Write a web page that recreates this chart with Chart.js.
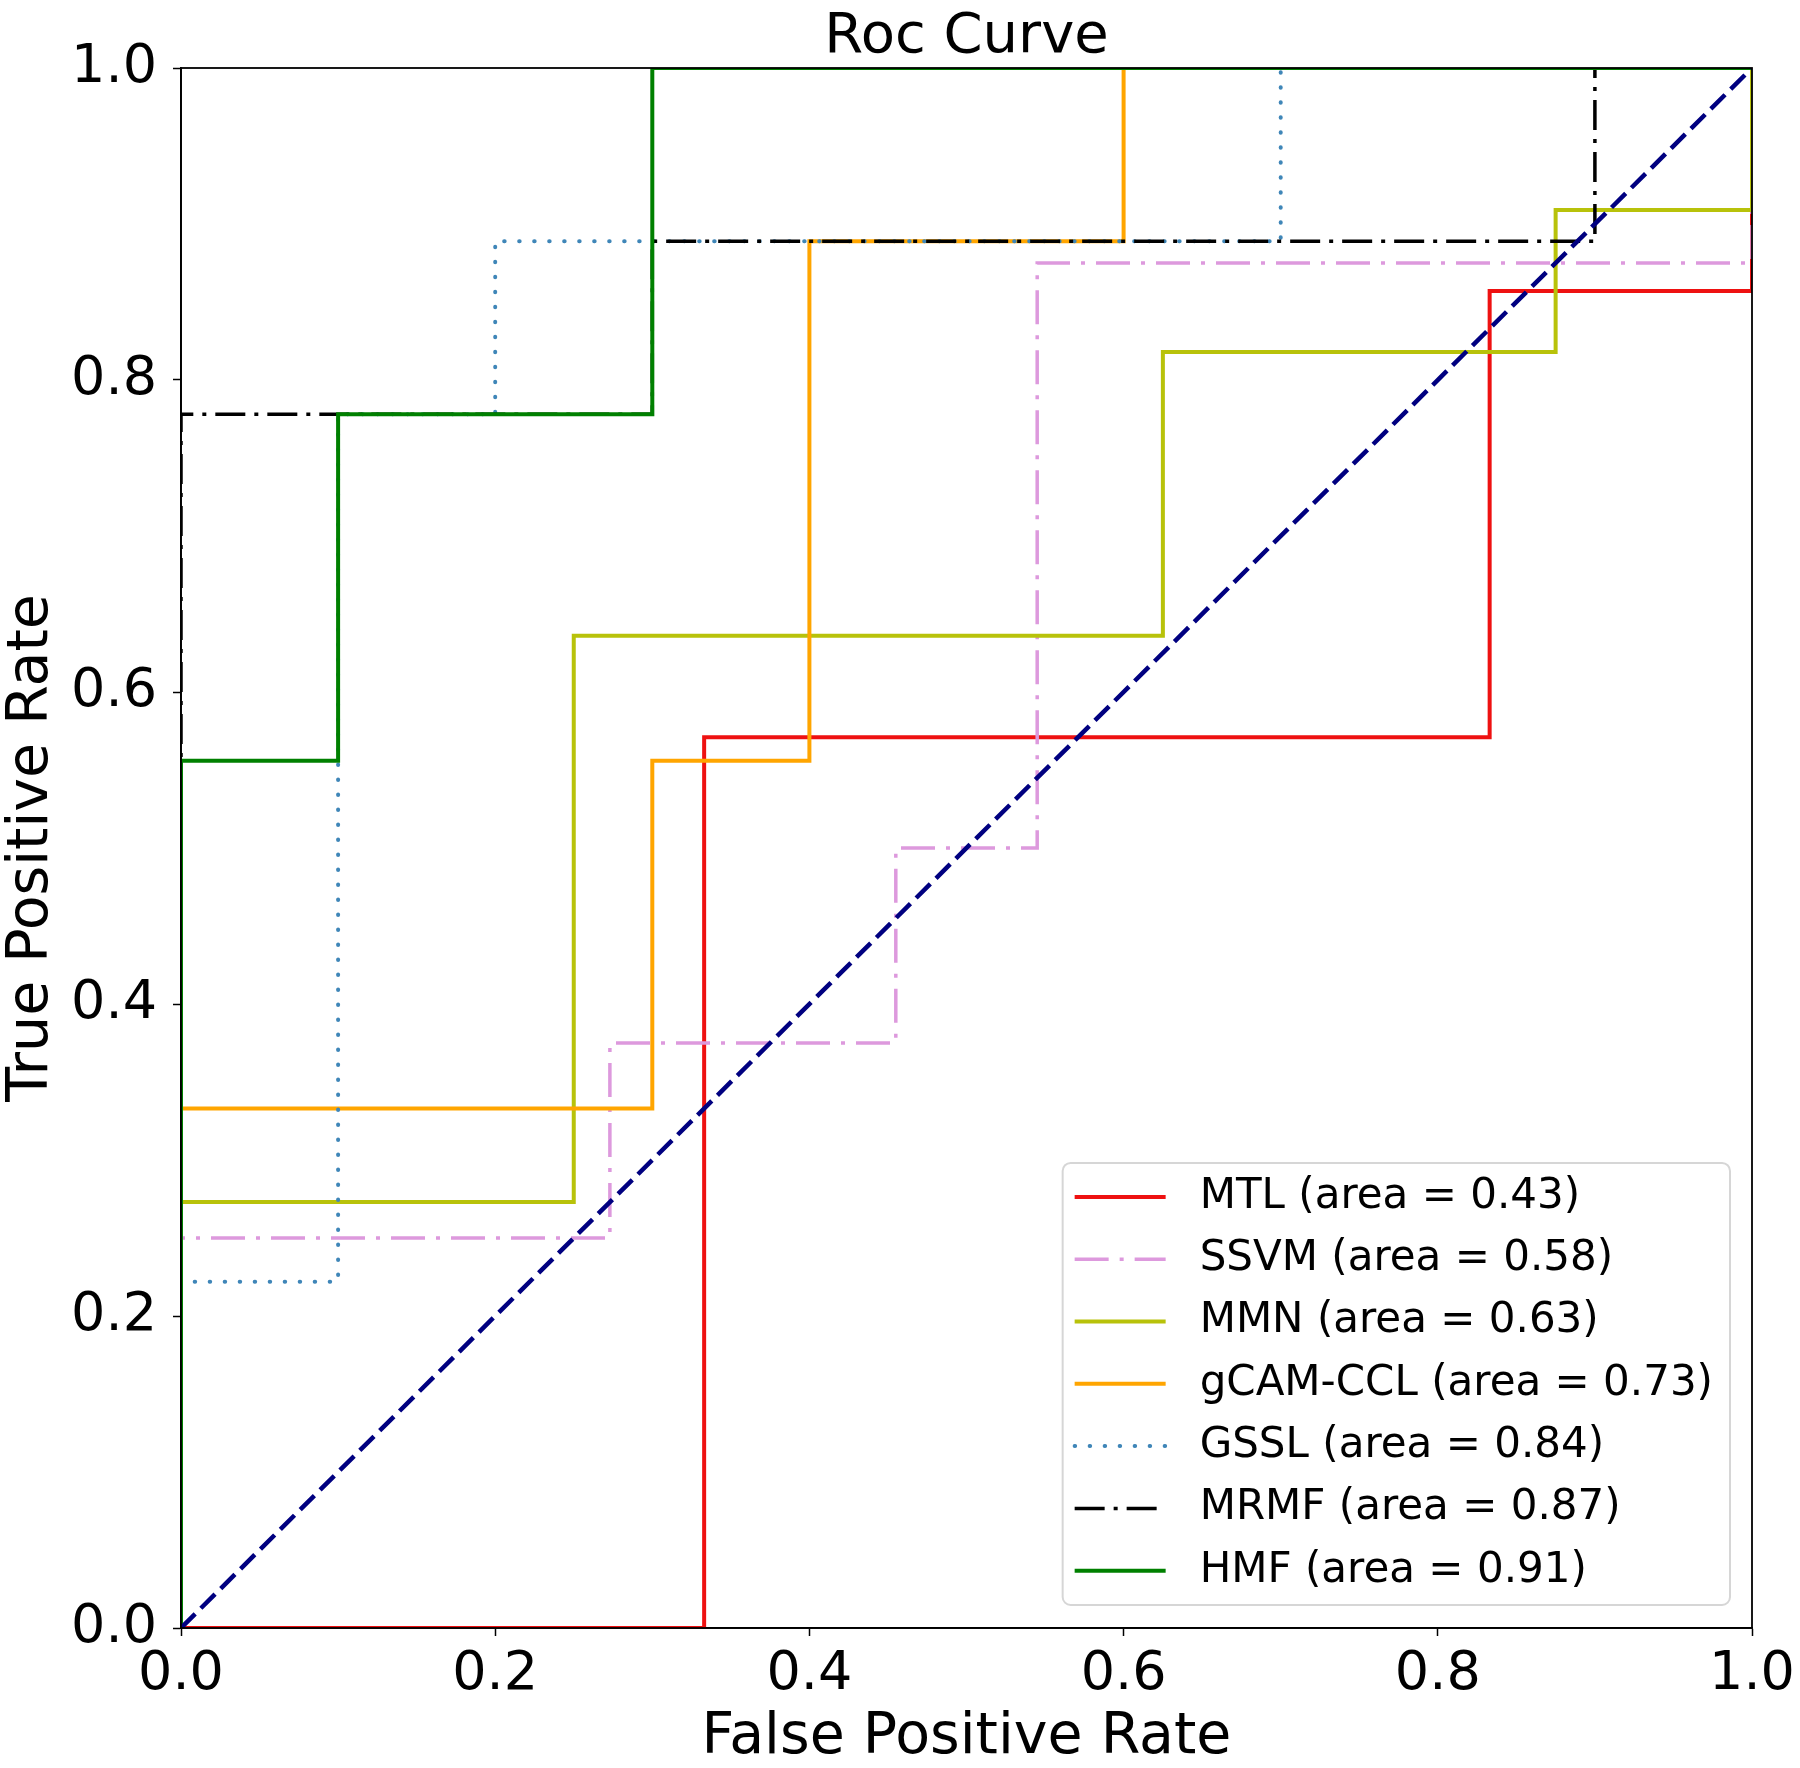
<!DOCTYPE html>
<html lang="en">
<head>
    <meta charset="UTF-8">
    <title>Roc Curve</title>
    <script src="https://cdn.jsdelivr.net/npm/chart.js"></script>
    <style>
        body {
            margin: 0;
            padding: 0;
            background: white;
        }
        canvas {
            display: block;
        }
    </style>
</head>
<body>
    <canvas id="rocChart" width="1800" height="1768"></canvas>

    <script>
        // ROC points (false positive rate / true positive rate)
        const mtlFpr = [0, 0.333, 0.333, 0.833, 0.833, 1, 1];
        const mtlTpr = [0, 0, 0.571, 0.571, 0.857, 0.857, 1];

        const ssvmFpr = [0, 0, 0.273, 0.273, 0.455, 0.455, 0.545, 0.545, 1, 1];
        const ssvmTpr = [0, 0.25, 0.25, 0.375, 0.375, 0.5, 0.5, 0.875, 0.875, 1];

        const mmnFpr = [0, 0, 0.25, 0.25, 0.625, 0.625, 0.875, 0.875, 1, 1];
        const mmnTpr = [0, 0.273, 0.273, 0.636, 0.636, 0.818, 0.818, 0.909, 0.909, 1];

        const gcamFpr = [0, 0, 0.3, 0.3, 0.4, 0.4, 0.6, 0.6, 1];
        const gcamTpr = [0, 0.333, 0.333, 0.556, 0.556, 0.889, 0.889, 1, 1];

        const gsslFpr = [0, 0, 0.1, 0.1, 0.2, 0.2, 0.7, 0.7, 1];
        const gsslTpr = [0, 0.222, 0.222, 0.778, 0.778, 0.889, 0.889, 1, 1];

        const mrmfFpr = [0, 0, 0.3, 0.3, 0.9, 0.9, 1];
        const mrmfTpr = [0, 0.778, 0.778, 0.889, 0.889, 1, 1];

        const hmfFpr = [0, 0, 0.1, 0.1, 0.3, 0.3, 1];
        const hmfTpr = [0, 0.556, 0.556, 0.778, 0.778, 1, 1];

        const chanceFpr = [0, 1];
        const chanceTpr = [0, 1];

        const seriesLabels = [
            'MTL (area = 0.43)',
            'SSVM (area = 0.58)',
            'MMN (area = 0.63)',
            'gCAM-CCL (area = 0.73)',
            'GSSL (area = 0.84)',
            'MRMF (area = 0.87)',
            'HMF (area = 0.91)'
        ];
        const axisTicks = [0, 0.2, 0.4, 0.6, 0.8, 1.0];

        const FONT = '"DejaVu Sans", sans-serif';

        function toPoints(xs, ys) {
            return xs.map((x, i) => ({ x: x, y: ys[i] }));
        }

        // draws the frame on all four sides, like matplotlib spines
        const frame = {
            id: 'frame',
            afterDatasetsDraw(chart) {
                const { ctx, chartArea: a } = chart;
                ctx.save();
                ctx.strokeStyle = '#000';
                ctx.lineWidth = 1.8;
                ctx.strokeRect(a.left, a.top, a.right - a.left, a.bottom - a.top);
                ctx.restore();
            }
        };

        // title centred over the plot area
        const plotTitle = {
            id: 'plotTitle',
            afterDraw(chart) {
                const { ctx, chartArea: a } = chart;
                ctx.save();
                ctx.font = '56px ' + FONT;
                ctx.fillStyle = '#000';
                ctx.textAlign = 'center';
                ctx.textBaseline = 'alphabetic';
                ctx.fillText('Roc Curve', (a.left + a.right) / 2, 52);
                ctx.restore();
            }
        };

        // legend box in the lower right corner of the plot area
        const insideLegend = {
            id: 'insideLegend',
            afterDraw(chart) {
                const { ctx, chartArea: a } = chart;
                const items = chart.data.datasets.filter(d => d.inLegend);
                ctx.save();
                ctx.font = '42px ' + FONT;
                const textW = Math.max(...items.map(d => ctx.measureText(d.label).width));
                const rowH = 62.3;
                const w = 12 + 91 + 34 + textW + 17;
                const h = rowH * items.length + 6;
                const x0 = a.right - 22 - w;
                const y0 = a.bottom - 23 - h;

                ctx.beginPath();
                ctx.roundRect(x0, y0, w, h, 8);
                ctx.fillStyle = 'rgba(255,255,255,0.8)';
                ctx.fill();
                ctx.strokeStyle = '#d6d6d6';
                ctx.lineWidth = 2;
                ctx.stroke();

                items.forEach((d, i) => {
                    const cy = y0 + 34 + i * rowH;
                    ctx.beginPath();
                    ctx.strokeStyle = d.borderColor;
                    ctx.lineWidth = d.borderWidth;
                    ctx.setLineDash(d.borderDash || []);
                    ctx.lineCap = d.borderCapStyle || 'butt';
                    ctx.moveTo(x0 + 12, cy);
                    ctx.lineTo(x0 + 103, cy);
                    ctx.stroke();
                    ctx.setLineDash([]);
                    ctx.fillStyle = '#000';
                    ctx.textAlign = 'left';
                    ctx.textBaseline = 'middle';
                    ctx.fillText(d.label, x0 + 137, cy);
                });
                ctx.restore();
            }
        };

        function line(label, xs, ys, color, dash, order, extra) {
            return Object.assign({
                label: label,
                inLegend: true,
                data: toPoints(xs, ys),
                showLine: true,
                borderColor: color,
                backgroundColor: color,
                borderWidth: 4,
                borderDash: dash,
                pointRadius: 0,
                tension: 0,
                fill: false,
                order: order
            }, extra || {});
        }

        const datasets = [
            line(seriesLabels[0], mtlFpr, mtlTpr, '#ee1111', [], 8),
            line(seriesLabels[1], ssvmFpr, ssvmTpr, '#dd99dd', [34, 11, 4, 11], 7, { borderWidth: 3.5 }),
            line(seriesLabels[2], mmnFpr, mmnTpr, '#b8c20a', [], 6),
            line(seriesLabels[3], gcamFpr, gcamTpr, '#ffa500', [], 5),
            line(seriesLabels[4], gsslFpr, gsslTpr, '#3f86b8', [0.5, 14.5], 4, { borderCapStyle: 'round' }),
            line(seriesLabels[5], mrmfFpr, mrmfTpr, '#000000', [30, 9, 4, 9], 3, { borderWidth: 3.5 }),
            line(seriesLabels[6], hmfFpr, hmfTpr, '#008000', [], 2),
            line('', chanceFpr, chanceTpr, '#000080', [20, 8], 1, { inLegend: false, borderWidth: 4.5 })
        ];

        function axis(titleText, titlePadding, fitFn) {
            return {
                type: 'linear',
                min: 0,
                max: 1,
                afterFit: fitFn,
                afterBuildTicks: (scale) => {
                    scale.ticks = axisTicks.map(v => ({ value: v }));
                },
                ticks: {
                    autoSkip: false,
                    maxRotation: 0,
                    color: '#000',
                    font: { family: FONT, size: 54, lineHeight: 1 },
                    callback: (v) => Number(v).toFixed(1)
                },
                grid: {
                    drawOnChartArea: false,
                    drawTicks: true,
                    tickLength: 8,
                    tickColor: '#000',
                    tickWidth: 1.5
                },
                border: { display: true, color: '#000', width: 1.8 },
                title: {
                    display: true,
                    text: titleText,
                    color: '#000',
                    font: { family: FONT, size: 57, lineHeight: 1 },
                    padding: titlePadding
                }
            };
        }

        const xAxis = axis('False Positive Rate', { top: 0, bottom: 1.5 }, (s) => {
            s.height = 140;
            s.paddingLeft = 0;
            s.paddingRight = 0;
        });
        xAxis.ticks.padding = 12;
        const yAxis = axis('True Positive Rate', { top: 3.5, bottom: 0 }, (s) => {
            s.width = 181;
            s.paddingTop = 0;
            s.paddingBottom = 0;
        });
        yAxis.ticks.padding = 16;

        new Chart(document.getElementById('rocChart'), {
            type: 'scatter',
            data: { datasets: datasets },
            options: {
                responsive: false,
                devicePixelRatio: 1,
                animation: false,
                layout: { padding: { top: 68, right: 48, left: 0, bottom: 0 } },
                scales: { x: xAxis, y: yAxis },
                plugins: {
                    legend: { display: false },
                    tooltip: { enabled: false },
                    title: { display: false }
                }
            },
            plugins: [frame, plotTitle, insideLegend]
        });
    </script>
</body>
</html>
